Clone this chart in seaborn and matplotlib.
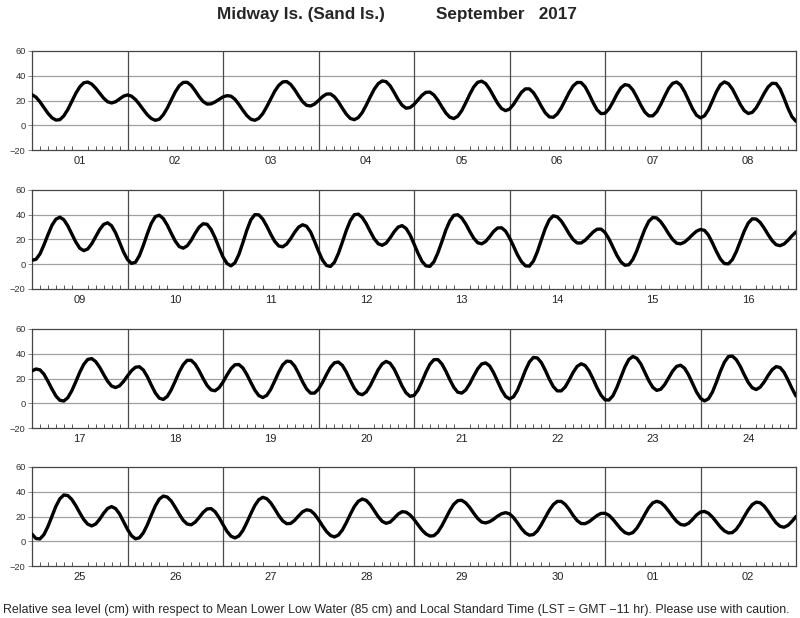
import numpy as np
import pandas as pd
import seaborn as sns
import matplotlib.pyplot as plt

# Hourly sea level (cm above MLLW).
# Each list runs from 00h of the first day of the row to 00h after the last day (8 days + 1 point).
sep01_08 = [
    24.7, 22.7, 18.9, 14.3, 9.7, 6.1, 4.2, 4.5, 7.6, 12.7, 19.2, 25.7, 31.0, 34.3, 34.9, 33.3, 30.0, 25.9, 21.9, 19.0, 18.0, 19.0, 21.3, 23.5,
    24.5, 23.5, 20.8, 16.9, 12.5, 8.4, 5.4, 4.0, 4.9, 8.5, 13.9, 20.5, 26.9, 31.9, 34.6, 34.7, 32.2, 27.9, 23.1, 19.2, 17.1, 17.3, 18.8, 20.9,
    22.9, 23.9, 23.5, 21.0, 16.8, 12.1, 7.8, 4.9, 4.0, 5.6, 9.4, 15.0, 21.3, 27.5, 32.2, 35.0, 35.3, 33.0, 28.8, 23.7, 19.1, 16.1, 15.6, 17.1,
    20.0, 23.1, 25.2, 25.3, 23.0, 18.9, 13.7, 8.9, 5.5, 4.5, 6.2, 10.3, 16.3, 22.9, 29.1, 33.6, 35.8, 35.2, 31.9, 26.6, 20.8, 16.2, 13.8, 14.3,
    16.8, 20.5, 24.2, 26.6, 26.8, 24.5, 20.2, 14.9, 9.9, 6.5, 5.4, 7.3, 11.8, 18.1, 24.9, 30.9, 34.7, 35.6, 33.7, 29.2, 23.5, 17.8, 13.5, 11.8,
    13.0, 16.8, 21.8, 26.6, 29.4, 29.4, 26.4, 21.3, 15.3, 10.0, 6.8, 6.4, 9.1, 14.0, 20.3, 26.6, 31.8, 34.6, 34.5, 31.1, 25.1, 18.3, 12.5, 9.4,
    9.7, 13.2, 18.8, 25.1, 30.3, 32.8, 32.2, 28.5, 22.7, 16.2, 10.7, 7.6, 7.6, 10.9, 16.7, 23.5, 29.8, 33.9, 34.9, 32.5, 27.1, 20.1, 13.3, 8.1,
    6.0, 7.6, 12.6, 19.7, 27.1, 32.7, 35.0, 33.6, 29.4, 23.2, 16.8, 11.8, 9.5, 10.4, 14.1, 19.7, 25.8, 31.0, 33.9, 33.7, 29.4, 21.9, 13.6, 6.8,
    3.2,
]
sep09_16 = [
    3.2, 4.0, 8.3, 15.6, 23.8, 31.4, 36.4, 38.0, 36.0, 31.0, 24.5, 18.0, 13.0, 11.0, 12.3, 16.5, 22.3, 28.0, 32.2, 33.5, 31.1, 25.4, 17.8, 9.9,
    3.8, 0.7, 1.6, 7.0, 15.4, 24.8, 33.2, 38.5, 39.6, 36.9, 31.6, 25.0, 18.7, 14.3, 13.0, 14.9, 19.3, 25.0, 30.0, 32.7, 32.3, 28.2, 21.5, 13.4,
    5.9, 0.6, -1.3, 1.2, 8.0, 17.5, 27.6, 35.9, 40.1, 39.9, 36.5, 30.8, 24.3, 18.5, 14.8, 14.1, 16.3, 20.7, 25.8, 30.0, 31.9, 30.7, 26.1, 18.6,
    10.6, 3.4, -1.0, -1.8, 1.6, 8.7, 17.9, 27.4, 35.3, 40.0, 40.5, 37.8, 32.8, 26.5, 20.6, 16.6, 15.3, 17.1, 21.3, 26.2, 30.0, 31.2, 29.0, 23.8,
    16.5, 8.9, 2.4, -1.3, -1.7, 2.0, 9.2, 18.2, 27.6, 35.0, 39.5, 40.0, 37.4, 32.6, 26.6, 21.1, 17.4, 16.5, 18.4, 22.2, 26.5, 29.3, 29.5, 26.8,
    21.4, 14.7, 7.6, 2.1, -1.3, -1.5, 2.5, 10.1, 19.7, 28.9, 35.9, 39.1, 38.3, 35.0, 30.0, 24.5, 19.9, 17.2, 17.2, 19.3, 22.6, 26.0, 28.3, 28.4,
    25.7, 20.5, 13.8, 7.1, 1.9, -0.8, -0.4, 3.9, 11.0, 19.8, 28.2, 34.7, 37.8, 37.4, 34.4, 29.8, 24.6, 20.0, 17.0, 16.5, 17.9, 20.7, 23.9, 26.7,
    28.1, 27.4, 23.5, 17.2, 10.3, 4.2, 0.6, 0.3, 3.7, 10.2, 18.5, 26.8, 33.3, 36.7, 36.5, 33.8, 29.2, 23.9, 19.1, 15.8, 15.0, 16.4, 19.4, 23.0,
    26.1,
]
sep17_24 = [
    26.1, 27.7, 27.0, 23.5, 17.8, 11.6, 5.9, 2.4, 1.8, 4.5, 10.1, 17.3, 25.0, 31.4, 35.4, 36.1, 33.7, 29.1, 23.3, 17.8, 13.9, 12.7, 14.1, 17.6,
    22.1, 26.3, 29.1, 29.5, 26.8, 21.4, 14.6, 8.3, 4.1, 3.1, 5.5, 10.9, 17.9, 25.3, 31.2, 34.7, 34.7, 31.6, 26.3, 20.0, 14.4, 10.8, 10.1, 12.5,
    17.1, 22.8, 27.9, 31.1, 31.3, 28.5, 23.2, 16.8, 10.6, 6.2, 4.6, 6.4, 11.2, 18.0, 25.1, 31.0, 34.0, 33.7, 30.1, 24.1, 17.3, 11.6, 8.2, 8.2,
    11.4, 16.8, 23.2, 29.0, 32.7, 33.3, 30.6, 25.2, 18.4, 12.1, 7.9, 6.9, 9.1, 14.2, 20.6, 27.1, 31.8, 33.8, 32.3, 27.7, 21.0, 13.9, 8.4, 5.6,
    6.3, 10.6, 17.5, 25.1, 31.5, 35.2, 35.3, 31.8, 26.0, 19.1, 12.9, 8.9, 8.2, 10.7, 15.7, 22.0, 27.8, 31.7, 32.6, 30.2, 24.7, 17.7, 10.8, 5.6,
    3.5, 5.2, 10.5, 18.3, 26.6, 33.4, 37.0, 36.6, 32.9, 26.6, 19.5, 13.5, 10.0, 10.0, 13.2, 18.8, 25.0, 29.8, 31.9, 30.5, 26.1, 19.6, 12.5, 6.5,
    2.8, 2.6, 6.1, 12.9, 21.2, 29.3, 35.4, 37.8, 36.3, 31.8, 25.1, 18.3, 12.9, 10.4, 11.3, 15.1, 20.6, 26.0, 29.8, 30.7, 28.3, 22.9, 16.0, 9.1,
    4.0, 1.9, 3.6, 9.0, 17.0, 25.8, 33.1, 37.7, 38.1, 35.2, 29.8, 23.0, 16.8, 12.5, 11.1, 13.0, 17.2, 22.5, 27.1, 29.6, 28.9, 25.0, 18.7, 11.9,
    5.8,
]
sep25_oct02 = [
    5.8, 2.2, 1.9, 5.4, 11.9, 20.0, 28.2, 34.3, 37.4, 36.9, 33.8, 28.8, 23.0, 17.6, 13.8, 12.4, 13.9, 17.8, 22.6, 26.5, 28.0, 26.4, 22.1, 15.9,
    9.6, 4.5, 2.0, 2.8, 6.9, 13.4, 21.2, 28.6, 34.1, 36.5, 35.7, 32.5, 27.4, 21.9, 16.9, 13.9, 13.3, 15.4, 19.2, 23.3, 26.1, 26.4, 23.9, 19.2,
    13.5, 8.0, 4.1, 2.7, 4.3, 8.7, 15.2, 22.3, 28.9, 33.6, 35.5, 34.4, 31.0, 26.1, 20.8, 16.5, 14.2, 14.4, 16.9, 20.5, 23.8, 25.4, 24.8, 21.9,
    17.5, 12.5, 7.9, 4.7, 3.5, 5.0, 9.1, 15.1, 21.8, 28.0, 32.3, 34.1, 33.0, 29.6, 24.8, 19.9, 16.1, 14.5, 15.5, 18.5, 21.9, 23.9, 23.5, 21.3,
    17.7, 13.3, 9.1, 5.9, 4.2, 4.5, 7.4, 12.5, 18.7, 24.8, 29.9, 32.8, 33.1, 31.0, 27.3, 22.7, 18.4, 15.5, 14.8, 15.8, 17.8, 20.3, 22.2, 23.1,
    22.2, 19.2, 14.9, 10.3, 6.7, 4.9, 5.4, 8.4, 13.4, 19.3, 25.0, 29.6, 32.2, 32.2, 29.8, 25.7, 20.8, 16.7, 14.3, 14.2, 15.8, 18.3, 20.8, 22.5,
    22.6, 21.0, 17.7, 13.8, 9.9, 7.0, 5.9, 7.0, 10.5, 15.8, 21.7, 27.2, 31.0, 32.3, 31.3, 28.4, 24.4, 20.0, 16.1, 13.6, 13.0, 14.5, 17.6, 21.2,
    23.6, 24.1, 22.6, 19.5, 15.5, 11.5, 8.4, 6.7, 7.0, 9.7, 14.3, 20.0, 25.4, 29.6, 31.6, 31.1, 28.4, 24.2, 19.3, 14.9, 12.1, 11.3, 12.9, 16.1,
    20.0,
]

days_row1 = ["01", "02", "03", "04", "05", "06", "07", "08"]
days_row2 = ["09", "10", "11", "12", "13", "14", "15", "16"]
days_row3 = ["17", "18", "19", "20", "21", "22", "23", "24"]
days_row4 = ["25", "26", "27", "28", "29", "30", "01", "02"]

y_ticks = [-20, 0, 20, 40, 60]
y_labels = ["\u221220", "0", "20", "40", "60"]

sns.set_theme(style="white")
plt.rcParams["font.family"] = ["Liberation Sans", "DejaVu Sans"]

W, H = 800, 618
fig = plt.figure(figsize=(W / 100, H / 100), dpi=100)

rows = [
    (sep01_08, days_row1, 51),
    (sep09_16, days_row2, 190),
    (sep17_24, days_row3, 329),
    (sep25_oct02, days_row4, 467),
]

for levels, days, top in rows:
    ax = fig.add_axes([32 / W, 1 - (top + 99) / H, 764 / W, 99 / H])
    df = pd.DataFrame({"hour": np.arange(len(levels)), "level": levels})

    # grid: light horizontal lines, darker day separators
    for yv in [0, 20, 40]:
        ax.axhline(yv, color="#a0a0a0", lw=0.9, zorder=0)
    for d in range(24, 192, 24):
        ax.axvline(d, color="#4a4a4a", lw=0.9, zorder=0)

    sns.lineplot(data=df, x="hour", y="level", ax=ax, color="black", lw=2.4,
                 zorder=3)

    ax.set_xlim(0, 192)
    ax.set_ylim(-20, 60)
    ax.set_xlabel("")
    ax.set_ylabel("")

    ax.set_xticks(np.arange(12, 192, 24), labels=days)
    minor = [h for h in range(2, 192, 2) if h % 24 != 0]
    ax.set_xticks(minor, minor=True)
    ax.tick_params(axis="x", which="major", length=0, pad=4.5,
                   labelsize=8, labelcolor="#222222")
    ax.tick_params(axis="x", which="minor", direction="in", bottom=True,
                   length=3, width=0.7, color="#555555")

    ax.set_yticks(y_ticks, labels=y_labels)
    ax.tick_params(axis="y", which="major", left=True, length=3, width=0.7,
                   color="#888888", pad=1.5, labelsize=6.7, labelcolor="#333333")

    for sp in ax.spines.values():
        sp.set_color("#444444")
        sp.set_linewidth(0.9)

fig.text(217 / W, 1 - 19 / H, "Midway Is. (Sand Is.)", fontsize=12.3,
         fontweight="bold", va="baseline", ha="left")
fig.text(436 / W, 1 - 19 / H, "September   2017", fontsize=12.3,
         fontweight="bold", va="baseline", ha="left")

fig.text(3 / W, 1 - 613 / H,
         "Relative sea level (cm) with respect to Mean Lower Low Water (85 cm) "
         "and Local Standard Time (LST = GMT \u221211 hr). Please use with caution.",
         fontsize=8.9, va="baseline", ha="left")

fig.savefig("out.png", dpi=100)
